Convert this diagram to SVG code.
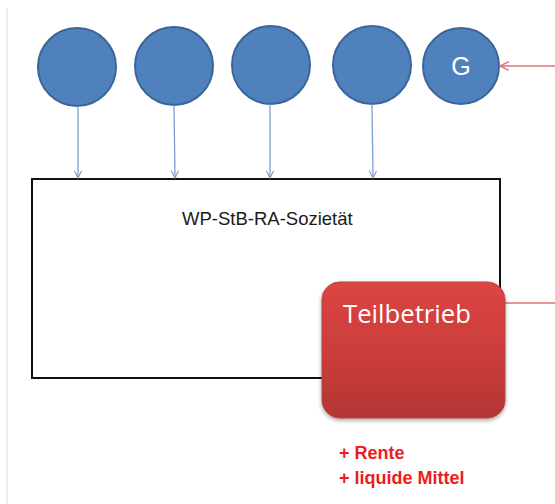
<svg xmlns="http://www.w3.org/2000/svg" width="555" height="504" viewBox="0 0 555 504">
  <defs>
    <marker id="arrowBlue" viewBox="0 0 10 10" refX="9" refY="5" markerWidth="9" markerHeight="9" markerUnits="userSpaceOnUse" orient="auto">
      <path d="M1,1 L9,5 L1,9" fill="none" stroke="#7f9fd0" stroke-width="1.3"/>
    </marker>
    <marker id="arrowRed" viewBox="0 0 10 10" refX="9" refY="5" markerWidth="11" markerHeight="11" markerUnits="userSpaceOnUse" orient="auto">
      <path d="M1,1 L9,5 L1,9" fill="none" stroke="#d9777a" stroke-width="1.3"/>
    </marker>
    <linearGradient id="redFill" x1="0" y1="0" x2="0" y2="1">
      <stop offset="0" stop-color="#db4542"/>
      <stop offset="0.5" stop-color="#cc3d3b"/>
      <stop offset="1" stop-color="#b33634"/>
    </linearGradient>
    <filter id="shadow" x="-10%" y="-10%" width="120%" height="125%">
      <feGaussianBlur in="SourceAlpha" stdDeviation="2"/>
      <feOffset dx="0" dy="2" result="b"/>
      <feComponentTransfer><feFuncA type="linear" slope="0.35"/></feComponentTransfer>
      <feMerge><feMergeNode/><feMergeNode in="SourceGraphic"/></feMerge>
    </filter>
    <style>
      .partner { fill: #4f81bd; stroke: #3a659a; stroke-width: 2; }
      .down { stroke: #7f9fd0; stroke-width: 1.3; fill: none; marker-end: url(#arrowBlue); }
      .link { stroke: #d9777a; stroke-width: 1.3; fill: none; }
      .label { font-family: "Liberation Sans", Arial, sans-serif; }
      .note { font-family: "Liberation Sans", Arial, sans-serif; font-weight: bold; font-size: 18px; fill: #ee1c1c; }
    </style>
  </defs>

  <rect width="555" height="504" fill="#ffffff"/>
  <!-- page margin line -->
  <line x1="7" y1="8" x2="7" y2="504" stroke="#dedede" stroke-width="1"/>

  <!-- firm -->
  <g id="sozietaet">
    <rect x="32" y="179" width="468" height="199" fill="#ffffff" stroke="#111111" stroke-width="2"/>
    <text class="label" x="182" y="225" font-size="18.5" fill="#1a1a1a">WP-StB-RA-Sozietät</text>
  </g>

  <!-- partners -->
  <g id="partner1"><circle class="partner" cx="77" cy="67" r="39"/></g>
  <g id="partner2"><circle class="partner" cx="174" cy="66" r="39"/></g>
  <g id="partner3"><circle class="partner" cx="271" cy="65" r="39"/></g>
  <g id="partner4"><circle class="partner" cx="372" cy="65" r="39"/></g>
  <g id="partnerG">
    <circle class="partner" cx="461" cy="66" r="38"/>
    <text class="label" x="461" y="75" font-size="25" fill="#ffffff" text-anchor="middle" font-family="Open Sans, sans-serif">G</text>
  </g>

  <!-- connectors -->
  <g id="connectors">
    <line class="down" x1="78" y1="106" x2="78" y2="178"/>
    <line class="down" x1="174" y1="105" x2="175" y2="178"/>
    <line class="down" x1="270" y1="104" x2="270" y2="178"/>
    <line class="down" x1="372" y1="104" x2="373" y2="178"/>
    <path class="link" d="M505,303 L556,303 L556,66 L500,66" marker-end="url(#arrowRed)"/>
  </g>

  <!-- spun-off unit -->
  <g id="teilbetrieb">
    <rect x="322" y="282" width="183" height="136" rx="18" fill="url(#redFill)" stroke="#b7403e" stroke-width="1" filter="url(#shadow)"/>
    <text x="343" y="323" font-family="Open Sans, sans-serif" font-size="25" fill="#ffffff" textLength="128" lengthAdjust="spacingAndGlyphs">Teilbetrieb</text>
  </g>

  <!-- consideration -->
  <g id="gegenleistung">
    <text class="note" x="339" y="459">+ Rente</text>
    <text class="note" x="339" y="484">+ liquide Mittel</text>
  </g>
</svg>
